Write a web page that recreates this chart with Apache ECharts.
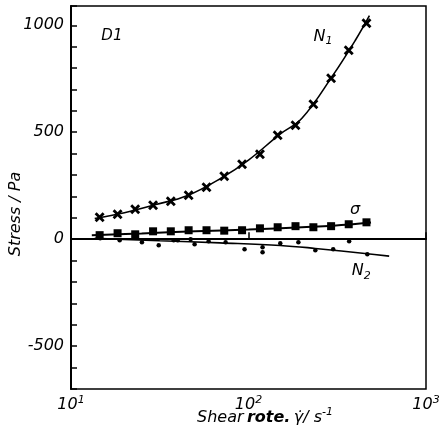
<!DOCTYPE html>
<html>
<head>
<meta charset="utf-8">
<script src="https://cdn.jsdelivr.net/npm/echarts@6/dist/echarts.min.js"></script>
<style>
  html, body { margin: 0; padding: 0; background: #fff; }
  #chart { width: 444px; height: 440px; }
</style>
</head>
<body>
<div id="chart"></div>
<script>
// Shear rates shared by the N1 and shear-stress measurements (1/s)
const shearRate = [14.5, 18.3, 23, 29, 36.5, 46, 58, 73, 92, 116, 146, 184, 232, 292, 367, 462];
// First normal stress difference N1 (Pa)
const n1Values = [103, 117, 140, 159, 178, 206, 243, 294, 350, 397, 486, 533, 631, 752, 883, 1009];
// Shear stress sigma (Pa)
const sigmaValues = [19, 28, 23, 37, 37, 42, 42, 40, 42, 51, 56, 61, 56, 61, 70, 79];
// Second normal stress difference N2 (Pa)
const n2Rates = [14.6, 18.8, 25.1, 31.2, 37.9, 39.9, 47.2, 49.7, 59.6, 74.3, 95, 120, 120, 151, 191, 238, 300, 369, 467];
const n2Values = [5, -5, -14, -28, -5, -5, 0, -23, -9, -14, -47, -37, -61, -19, -14, -51, -47, -9, -70];

// Smoothed curves drawn through each data set
const n1FitRates = [13.6, 20, 30, 45, 70, 100, 150, 200, 300, 400, 480];
const n1FitValues = [97, 124, 162, 203, 285, 370, 490, 565, 768, 930, 1045];
const sigmaFitRates = [13.1, 25, 50, 100, 200, 300, 490];
const sigmaFitValues = [18, 27, 37, 45, 56, 63, 78];
const n2FitRates = [13.6, 31.6, 69, 151, 238, 467, 620];
const n2FitValues = [4, -7, -17, -29, -43, -68, -79];

// Zero reference line extent (shear rate range)
const zeroLineRates = [10, 880];

// Curve annotations: [shear rate, stress, text]
const annotations = [
  [17, 949, 'D1'],
  [263, 948, '{n|N}{sub|1}'],
  [398, 135, '{n|σ}'],
  [432, -150, '{n|N}{sub|2}']
];

const yTickLabels = [-500, 0, 500, 1000];

const pairs = (xs, ys) => xs.map((x, i) => [x, ys[i]]);
const FONT = 'DejaVu Sans';
const INK = '#000';

const crossPath = 'path://M0,2L2,0L5,3L8,0L10,2L7,5L10,8L8,10L5,7L2,10L0,8L3,5Z';

const chart = echarts.init(document.getElementById('chart'), null, { renderer: 'canvas' });

const axisTitles = [
  {
    type: 'text', x: 16, y: 214, rotation: Math.PI / 2,
    style: {
      text: 'Stress / Pa', fontFamily: FONT, fontStyle: 'italic', fontSize: 16,
      fill: INK, align: 'center', verticalAlign: 'middle'
    }
  },
  {
    type: 'text', x: 265, y: 418,
    style: {
      text: '{n|Shear} {b|rote.} {n|γ̇/ s}{sup|-1}',
      align: 'center', verticalAlign: 'middle',
      rich: {
        n: { fontFamily: FONT, fontStyle: 'italic', fontSize: 16, fill: INK, lineHeight: 22 },
        b: { fontFamily: FONT, fontStyle: 'italic', fontWeight: 'bold', fontSize: 16, fill: INK, lineHeight: 22 },
        sup: { fontFamily: FONT, fontStyle: 'italic', fontSize: 11, fill: INK, verticalAlign: 'top', lineHeight: 12 }
      }
    }
  }
];

chart.setOption({
  backgroundColor: '#fff',
  animation: false,
  grid: {
    left: 71, right: 18, top: 6, bottom: 51,
    show: true, borderColor: INK, borderWidth: 1.5, backgroundColor: 'transparent'
  },
  xAxis: {
    type: 'log', logBase: 10, min: 10, max: 1000,
    axisLine: { lineStyle: { color: INK, width: 2 } },
    axisTick: { inside: true, length: 7, lineStyle: { color: INK, width: 1.5 } },
    splitLine: { show: false },
    minorTick: { show: false },
    axisLabel: {
      margin: 6,
      formatter: v => '{b|10}{s|' + Math.round(Math.log10(v)) + '}',
      rich: {
        b: { fontFamily: FONT, fontStyle: 'italic', fontSize: 16, color: INK, lineHeight: 20 },
        s: { fontFamily: FONT, fontStyle: 'italic', fontSize: 11, color: INK, verticalAlign: 'top', lineHeight: 12 }
      }
    }
  },
  yAxis: {
    type: 'value', min: -700, max: 1090, interval: 100,
    axisLine: { show: true, lineStyle: { color: INK, width: 2 } },
    axisTick: { show: true, inside: true, length: 6, lineStyle: { color: INK, width: 1.5 } },
    splitLine: { show: false },
    axisLabel: {
      interval: 0, margin: 7,
      fontFamily: FONT, fontStyle: 'italic', fontSize: 16, color: INK,
      formatter: v => (yTickLabels.indexOf(v) >= 0 ? String(v) : '')
    }
  },
  series: [
    {
      name: 'zero', type: 'line', showSymbol: false, silent: true,
      data: zeroLineRates.map(x => [x, 0]),
      lineStyle: { color: INK, width: 1 }
    },
    {
      name: 'N1 fit', type: 'line', smooth: 0.4, showSymbol: false,
      data: pairs(n1FitRates, n1FitValues),
      lineStyle: { color: INK, width: 1.6 }
    },
    {
      name: 'sigma fit', type: 'line', smooth: 0.4, showSymbol: false,
      data: pairs(sigmaFitRates, sigmaFitValues),
      lineStyle: { color: INK, width: 2 }
    },
    {
      name: 'N2 fit', type: 'line', smooth: 0.4, showSymbol: false,
      data: pairs(n2FitRates, n2FitValues),
      lineStyle: { color: INK, width: 1.6 }
    },
    {
      name: 'N1', type: 'scatter', symbol: crossPath, symbolSize: 10,
      data: pairs(shearRate, n1Values),
      itemStyle: { color: INK, opacity: 1 }
    },
    {
      name: 'sigma', type: 'scatter', symbol: 'rect', symbolSize: 8,
      data: pairs(shearRate, sigmaValues),
      itemStyle: { color: INK, opacity: 1 }
    },
    {
      name: 'N2', type: 'scatter', symbol: 'circle', symbolSize: 4.5,
      data: pairs(n2Rates, n2Values),
      itemStyle: { color: INK, opacity: 1 }
    }
  ],
  graphic: axisTitles
});

// Curve labels, placed at data coordinates through the chart's own scales
const labelRich = {
  n: { fontFamily: FONT, fontStyle: 'italic', fontSize: 16, fill: INK, lineHeight: 20 },
  d: { fontFamily: FONT, fontStyle: 'italic', fontSize: 15, fill: INK, lineHeight: 20 },
  sub: { fontFamily: FONT, fontStyle: 'italic', fontSize: 11, fill: INK, verticalAlign: 'bottom', lineHeight: 12, padding: [6, 0, 0, 0] }
};
const curveLabels = annotations.map(a => {
  const pt = chart.convertToPixel({ gridIndex: 0 }, [a[0], a[1]]);
  const txt = a[2].indexOf('{') === 0 ? a[2] : '{d|' + a[2] + '}';
  return {
    type: 'text', x: pt[0], y: pt[1],
    style: { text: txt, align: 'center', verticalAlign: 'middle', rich: labelRich }
  };
});
chart.setOption({ graphic: axisTitles.concat(curveLabels) });
</script>
</body>
</html>
